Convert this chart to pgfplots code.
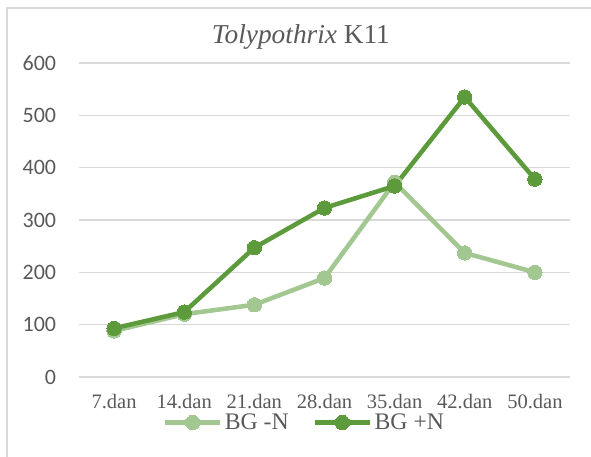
\documentclass[border=0pt]{standalone}
\usepackage{pgfplots}
\pgfplotsset{compat=1.18}
\usepackage{fontspec}
\setmainfont{Liberation Serif}
\newfontfamily\carlito{Carlito}
\definecolor{lightg}{HTML}{A2C791}
\definecolor{darkg}{HTML}{5C9A3B}
\definecolor{gridc}{HTML}{D9D9D9}
\definecolor{txt}{HTML}{595959}
\begin{document}
\begin{tikzpicture}
  \begin{axis}[
      scale only axis,
      width=368.25pt, height=235.5pt,
      xmin=-0.5, xmax=6.5,
      ymin=0, ymax=600,
      xtick={0,...,6},
      xticklabels={7.dan,14.dan,21.dan,28.dan,35.dan,42.dan,50.dan},
      ytick={0,100,...,600},
      ymajorgrids,
      grid style={gridc, line width=0.8pt},
      axis line style={draw=none},
      major tick length=0pt,
      clip=false,
      /pgf/number format/assume math mode=true,
      yticklabel style={font=\carlito\fontsize{16.5}{18}\selectfont, text=txt,
        anchor=east, inner sep=0pt, xshift=-17pt},
      xticklabel style={font=\fontsize{15.4}{17}\selectfont, text=txt,
        anchor=base, inner sep=0pt, yshift=-24pt},
      title={\textit{Tolypothrix} K11},
      title style={font=\fontsize{20.5}{23}\selectfont, text=txt,
        at={(rel axis cs:0.452,1.035)}, anchor=base, inner sep=0pt},
      legend columns=2,
      legend style={draw=none, fill=none, font=\fontsize{17.8}{20}\selectfont,
        text=txt, at={(rel axis cs:0.46,-0.145)}, anchor=center,
        /tikz/every even column/.append style={column sep=16pt},
        inner sep=0pt, cells={anchor=west}},
      legend image code/.code={
        \draw[mark repeat=2, mark phase=2, #1]
          plot coordinates {(0pt,0pt) (20.5pt,0pt) (41pt,0pt)};},
      every axis plot/.append style={line width=3.4pt,
        mark=*, mark size=5.4pt, line join=round},
    ]
    % BG -N
    \addplot[lightg, mark options={fill=lightg, draw=lightg, line width=0pt}] coordinates {
      (0,88)(1,120)(2,138)(3,189)(4,372)(5,237)(6,200)
    };
    \addlegendentry{BG -N}
    % BG +N
    \addplot[darkg, mark options={fill=darkg, draw=darkg, line width=0pt}] coordinates {
      (0,93)(1,124)(2,247)(3,323)(4,365)(5,535)(6,378)
    };
    \addlegendentry{BG +N}
    % chart frame
    \draw[gridc, line width=1.2pt] (rel axis cs:-0.1466,-0.2548) -- (rel axis cs:-0.1466,1.1752) -- (rel axis cs:1.0428,1.1752);
    \coordinate (bl) at (rel axis cs:-0.1609,-0.2548);
    \coordinate (tr) at (rel axis cs:1.0428,1.2006);
  \end{axis}
  \pgfresetboundingbox
  \useasboundingbox (bl) rectangle (tr);
\end{tikzpicture}
\end{document}
